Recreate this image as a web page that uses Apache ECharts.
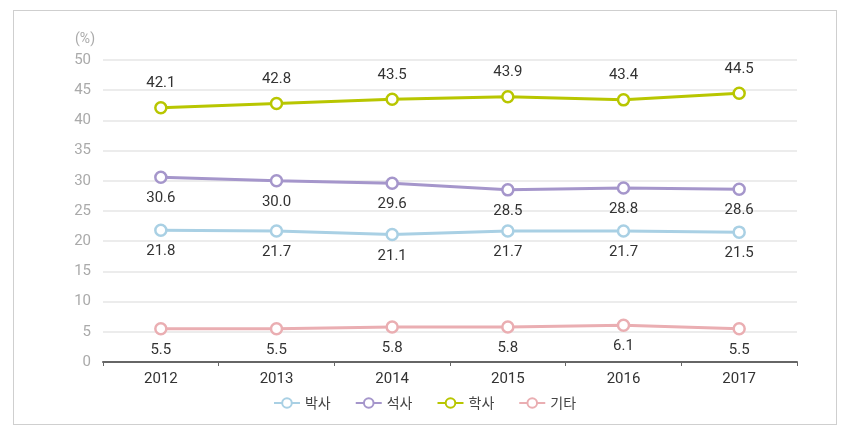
<!DOCTYPE html>
<html><head><meta charset="utf-8">
<script src="https://cdn.jsdelivr.net/npm/echarts@6/dist/echarts.min.js"></script>
<style>
html,body{margin:0;padding:0;background:#fff;}
#frame{position:absolute;left:13px;top:10px;width:822px;height:413px;border:1px solid #cfcfcf;}
#chart{position:absolute;left:0;top:0;width:849px;height:444px;}
</style></head>
<body><div id="frame"></div><div id="chart"></div>
<script>
const years = ['2012','2013','2014','2015','2016','2017'];
const seriesNames = ['박사','석사','학사','기타'];
const phd = [21.8,21.7,21.1,21.7,21.7,21.5];
const master = [30.6,30.0,29.6,28.5,28.8,28.6];
const bachelor = [42.1,42.8,43.5,43.9,43.4,44.5];
const other = [5.5,5.5,5.8,5.8,6.1,5.5];
const yTicks = [0,5,10,15,20,25,30,35,40,45,50];

const colors = ['#a9d0e4','#a596cb','#b8c600','#eaaeb2'];
const numFont = 'Roboto,"DejaVu Sans",sans-serif';
const dataSets = [phd, master, bachelor, other];
const positions = ['bottom','bottom','top','bottom'];

const chart = echarts.init(document.getElementById('chart'));
chart.setOption({
  animation:false,
  grid:{left:103,right:52,top:60,bottom:82,containLabel:false},
  legend:{
    data:seriesNames, bottom:29, left:'center', itemWidth:26, itemHeight:12, itemGap:24,
    textStyle:{color:'#444',fontSize:14,fontFamily:'"Noto Sans CJK KR",sans-serif'}
  },
  xAxis:{
    type:'category', data:years, boundaryGap:true,
    axisLine:{lineStyle:{color:'#666',width:2}},
    axisTick:{show:true,length:4,lineStyle:{color:'#666'}},
    axisLabel:{color:'#333',fontSize:15,fontFamily:numFont,margin:10}
  },
  yAxis:{
    type:'value', min:0, max:50, interval:5,
    name:'(%)', nameLocation:'end', nameGap:14,
    nameTextStyle:{color:'#aaa',fontSize:14,fontFamily:numFont,align:'right',padding:[0,8,0,0]},
    axisLine:{show:false}, axisTick:{show:false},
    axisLabel:{color:'#aaa',fontSize:15,fontFamily:numFont,margin:12,
      formatter:v=>yTicks.includes(v)?String(v):''},
    splitLine:{lineStyle:{color:'#e6e6e6',width:1.5}}
  },
  series: seriesNames.map((n,i)=>({
    name:n, type:'line', data:dataSets[i],
    symbol:'circle', symbolSize:11,
    lineStyle:{color:colors[i],width:3},
    itemStyle:{color:'#fff',borderColor:colors[i],borderWidth:2.5},
    label:{show:true,position:positions[i],distance:positions[i]==='top'?10:7,
      color:'#333',fontSize:15,fontFamily:numFont,
      formatter:p=>p.value.toFixed(1)}
  }))
});
</script></body></html>
